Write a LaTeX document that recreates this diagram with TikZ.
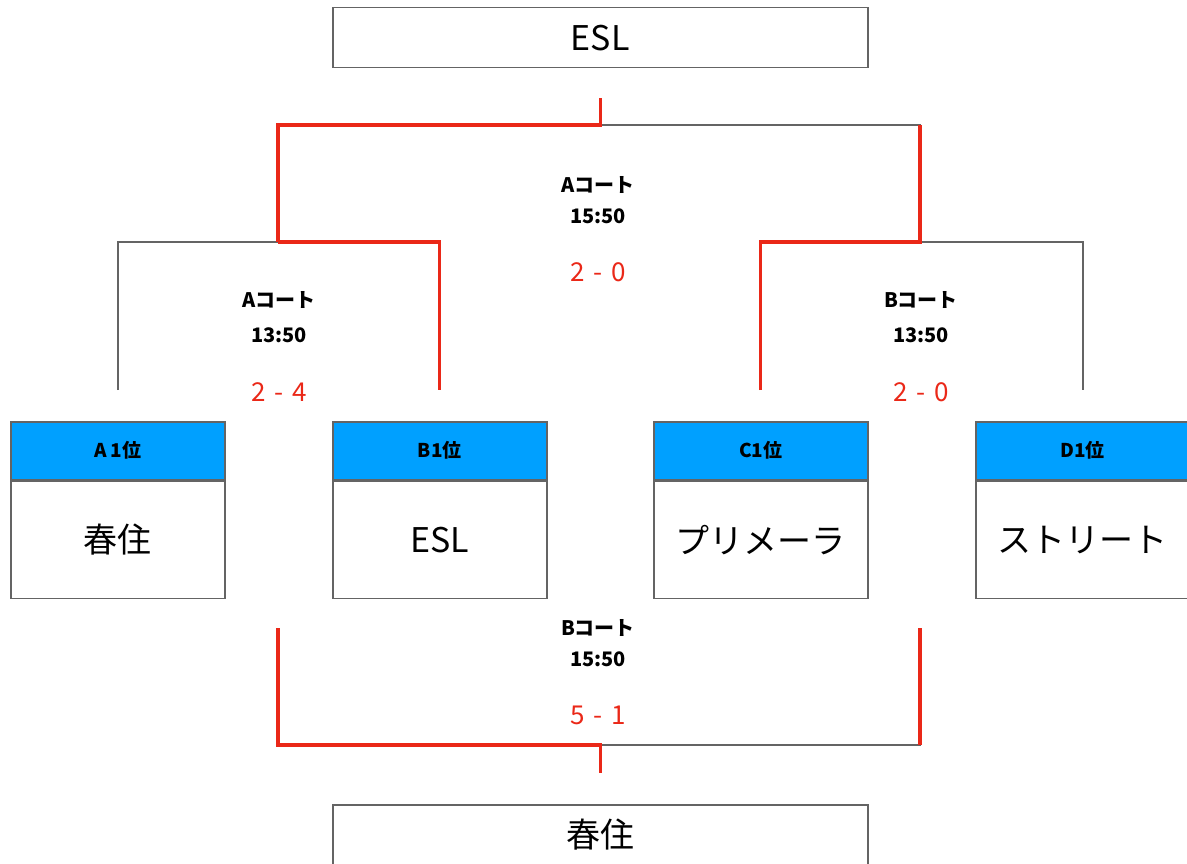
\documentclass[tikz,border=0pt]{standalone}
\usepackage{fontspec}
\setmainfont{Noto Sans CJK JP}
\usepackage{tikz}
\usepackage{xcolor}
\usetikzlibrary{positioning}

\definecolor{winred}{RGB}{234,40,24}
\definecolor{seedblue}{RGB}{0,160,255}
\definecolor{linegray}{RGB}{100,100,100}

\tikzset{
  resultbox/.style={draw=linegray, line width=1.5pt, minimum width=535pt, minimum height=60pt,
    inner sep=0pt, anchor=north west, font=\fontsize{34}{34}\selectfont},
  seedbox/.style={draw=linegray, fill=seedblue, line width=1.5pt, minimum width=214pt, minimum height=58pt,
    inner sep=0pt, anchor=north west, font=\bfseries\fontsize{19}{19}\selectfont},
  teambox/.style={draw=linegray, line width=1.5pt, minimum width=214pt, minimum height=117pt,
    inner sep=0pt, font=\fontsize{34}{34}\selectfont},
  court/.style={align=center, inner sep=0pt, font=\bfseries\fontsize{20}{35}\selectfont},
  score/.style={inner sep=0pt, text=winred, font=\fontsize{26}{26}\selectfont},
  lose/.style={draw=linegray, line width=1.5pt},
  win/.style={draw=winred, line width=3.2pt}
}

\begin{document}
\begin{tikzpicture}[x=1pt,y=-1pt]
    \useasboundingbox (0,0) rectangle (1187,864);

    \node[resultbox] (champ) at (332,7) {ESL};
    \node[resultbox] (bronze) at (332,804) {春住};

    \node[seedbox] (seedA) at (10,421) {A 1位};
    \node[seedbox] (seedB) at (332,421) {B1位};
    \node[seedbox] (seedC) at (653,421) {C1位};
    \node[seedbox] (seedD) at (975,421) {D1位};
    \node[teambox, below=0pt of seedA] (teamA) {春住};
    \node[teambox, below=0pt of seedB] (teamB) {ESL};
    \node[teambox, below=0pt of seedC] (teamC) {プリメーラ};
    \node[teambox, below=0pt of seedD] (teamD) {ストリート};

    \coordinate (semiL) at (278,242);
    \coordinate (semiR) at (920,242);
    \coordinate (finalT) at (champ.south |- 0,125);
    \coordinate (thirdL) at (278,628);
    \coordinate (thirdR) at (920,628);
    \coordinate (thirdT) at (bronze.north |- 0,745);

    % losers first, winners on top
    \draw[lose] ([yshift=31pt]seedA.north) |- (semiL) -| ([yshift=31pt]seedB.north);
    \draw[lose] (semiR) -| ([yshift=31pt]seedD.north);
    \draw[lose] (finalT) -| (semiR);
    \draw[lose] (thirdT) -| (thirdR);

    \draw[win] (semiL) -| ([yshift=31pt]seedB.north);
    \draw[win] (semiL) |- (finalT) -- ([yshift=-30pt]champ.south);
    \draw[win] ([yshift=31pt]seedC.north) |- (semiR) -- (semiR |- finalT);
    \draw[win] (thirdL) |- (thirdT) -- ([yshift=31pt]bronze.north);
    \draw[win] (thirdR) -- (thirdR |- thirdT);

    \node[court] (courtL) at (279,317) {Aコート\\13:50};
    \node[score] (scoreL) at (279,392) {2\,\,-\,\,4};
    \node[court] (courtR) at (921,317) {Bコート\\13:50};
    \node[score] (scoreR) at (921,392) {2\,\,-\,\,0};
    \node[court, font=\bfseries\fontsize{20}{31}\selectfont] (courtF) at (598,200) {Aコート\\15:50};
    \node[score] (scoreF) at (598,272) {2\,\,-\,\,0};
    \node[court, font=\bfseries\fontsize{20}{31}\selectfont] (courtT) at (598,643) {Bコート\\15:50};
    \node[score] (scoreT) at (598,715) {5\,\,-\,\,1};
\end{tikzpicture}
\end{document}
